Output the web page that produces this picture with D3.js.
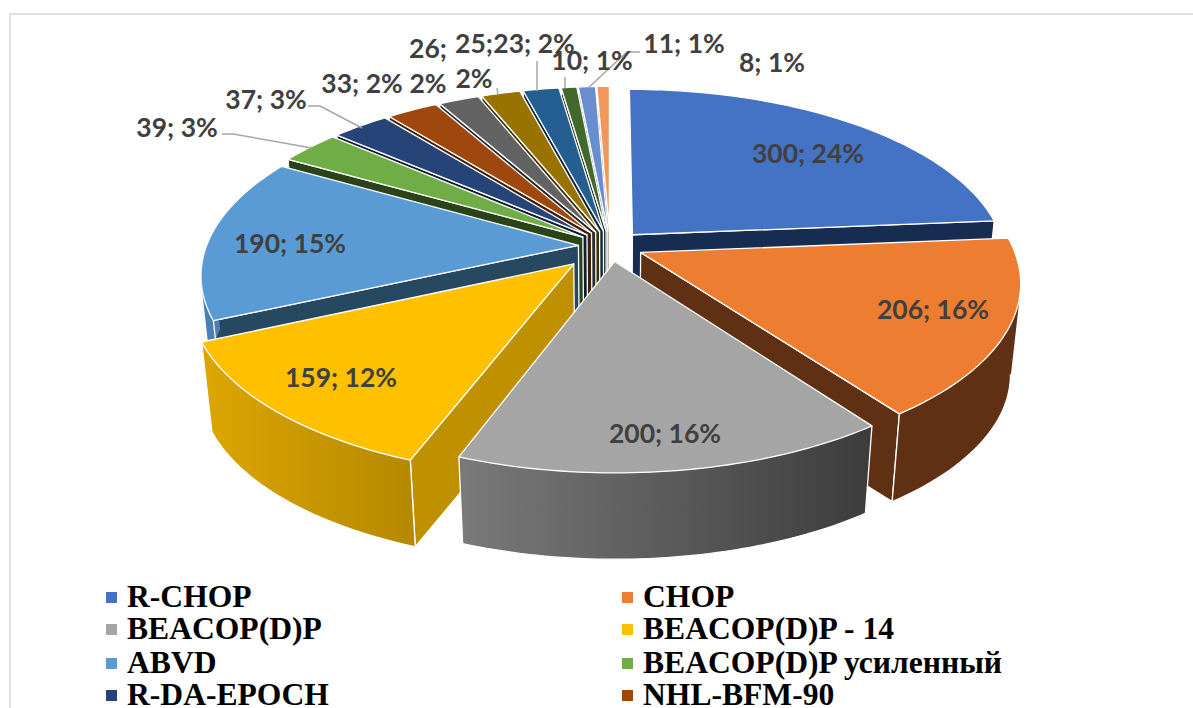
<!DOCTYPE html>
<html><head><meta charset="utf-8">
<script src="https://cdn.jsdelivr.net/npm/d3@7/dist/d3.min.js"></script>
<style>html,body{margin:0;padding:0;background:#fff;overflow:hidden}svg{display:block}</style>
</head><body><svg id="c" width="1193" height="708"></svg>
<script>
const categories = ["R-CHOP","CHOP","BEACOP(D)P","BEACOP(D)P - 14","ABVD","BEACOP(D)P усиленный","R-DA-EPOCH","NHL-BFM-90","s9","s10","s11","s12","s13","s14"];
const values = [300,206,200,159,190,39,37,33,26,25,23,10,11,8];
const topColors = ["#4472C4","#ED7D31","#A5A5A5","#FFC000","#5B9BD5","#70AD47","#264478","#9E480E","#636363","#997300","#255E91","#43682B","#698ED0","#F1975A"];
const wallColors = ["#172C51","#5F3013","#404040","#BF9000","#264861","#2A4318","#0F1D35","#421E06","#2A2A2A","#3F3000","#0F2A40","#1C2C12","#2C4A80","#6B3A15"];
const rimLeft = ["#172C51","#5F3013","#7A7A7A","#DDA600","#4A80B2","#2A4318","#0F1D35","#421E06","#2A2A2A","#3F3000","#0F2A40","#1C2C12","#2C4A80","#6B3A15"];
const rimRight = ["#172C51","#5F3013","#3C3C3C","#B58900","#4A80B2","#2A4318","#0F1D35","#421E06","#2A2A2A","#3F3000","#0F2A40","#1C2C12","#2C4A80","#6B3A15"];
const labelLines = [["300; 24%"],["206; 16%"],["200; 16%"],["159; 12%"],["190; 15%"],["39; 3%"],["37; 3%"],["33; 2%"],["26;","2%"],["25;","2%"],["23; 2%"],["10; 1%"],["11; 1%"],["8; 1%"]];
const explodeBy = [0.09,0.09,0.09,0.14,0.085,0.09,0.09,0.09,0.09,0.09,0.09,0.09,0.09,0.09];
const labelAnchor = [[808,163],[933,319],[665,443],[341,387],[290,253],[177,137],[266,109],[362,93],[428,58,428,93],[474,53,474,88],[534,53],[592,70],[684,53],[772,72]];
const leaders = [null,null,null,null,null,[[222,134],[233,134],[312,148]],[[308,106],[320,106],[362,128]],null,null,[[497,88],[498,95]],[[537,61],[537,91]],[[565,77],[565,88]],[[640,52],[627,52],[588,88]],null];
const legendX = [127,643], legendY = [607,639,673,705];
const cx=610, cy=246, R=372, Ry=172, k=0.16, shrink=0.975, depth=92;

const svg=d3.select("#c");
const defs=svg.append("defs");
svg.append("rect").attr("x",10).attr("y",14).attr("width",1195).attr("height",710).attr("fill","#fff").attr("stroke","#E0E0E0").attr("stroke-width",2);

const pie=d3.pie().sort(null).value(d=>d)(values);
function proj(X,Y){const n=1+k*Y;return [cx+R*X/n,cy-Ry*Y/n];}
function low(p){return [cx+shrink*(p[0]-cx),cy+shrink*(p[1]-cy)+depth];}
const line=d3.line();
const slices=pie.map((a,i)=>{
  const mid=(a.startAngle+a.endAngle)/2, e=explodeBy[i];
  const ox=e*Math.sin(mid), oy=e*Math.cos(mid);
  const n=Math.max(4,Math.ceil((a.endAngle-a.startAngle)/0.02));
  const ts=d3.range(n+1).map(j=>a.startAngle+(a.endAngle-a.startAngle)*j/n);
  const rim=ts.map(t=>proj(ox+Math.sin(t),oy+Math.cos(t)));
  return {i,mid,a,ts,apex:proj(ox,oy),rim};
}).sort((p,q)=>Math.cos(q.mid)-Math.cos(p.mid));

slices.forEach(s=>{
  const g=svg.append("g");
  const apexL=low(s.apex), rimL=s.rim.map(low);
  const poly=(pts,fill)=>g.append("path").attr("d",line(pts)+"Z").attr("fill",fill).attr("stroke","#fff").attr("stroke-width",1.3).attr("stroke-linejoin","round");
  const last=s.rim.length-1;
  if(Math.sin(s.a.startAngle)<-1e-6) poly([s.apex,s.rim[0],rimL[0],apexL],wallColors[s.i]);
  if(Math.sin(s.a.endAngle)>1e-6) poly([s.apex,s.rim[last],rimL[last],apexL],wallColors[s.i]);
  const vis=d3.range(s.rim.length).filter(j=>Math.cos(s.ts[j])<0.05);
  if(vis.length>1){
    const xs=vis.map(j=>s.rim[j][0]);
    const grad=defs.append("linearGradient").attr("id","g"+s.i).attr("gradientUnits","userSpaceOnUse")
      .attr("x1",d3.min(xs)).attr("x2",d3.max(xs)).attr("y1",0).attr("y2",0);
    grad.append("stop").attr("offset",0).attr("stop-color",rimLeft[s.i]);
    grad.append("stop").attr("offset",1).attr("stop-color",rimRight[s.i]);
    // union of same-winding quads: no seams, and the silhouette tangent is filled
    const quads=d3.range(vis.length-1).map(n=>{
      const a=vis[n],b=vis[n+1];
      const q=[s.rim[a],s.rim[b],rimL[b],rimL[a]];
      return d3.polygonArea(q)<0?q.reverse():q;
    });
    g.append("path").attr("d",quads.map(q=>line(q)+"Z").join("")).attr("fill","url(#g"+s.i+")").attr("fill-rule","nonzero");
    const front=vis.filter(j=>Math.cos(s.ts[j])<-0.16);
    if(front.length>1) g.append("path").attr("d",line(front.map(j=>rimL[j]))).attr("fill","none").attr("stroke","#fff").attr("stroke-width",1.2);
    [0,last].forEach(j=>{ if(vis.includes(j)) g.append("path").attr("d",line([s.rim[j],rimL[j]])).attr("stroke","#fff").attr("stroke-width",1.3); });
  }
  poly([s.apex].concat(s.rim),topColors[s.i]);
});

leaders.forEach(l=>{if(l)svg.append("path").attr("d",line(l)).attr("fill","none").attr("stroke","#A6A6A6").attr("stroke-width",1.5);});

labelLines.forEach((t,i)=>{
  const a=labelAnchor[i];
  const el=svg.append("g").attr("font-family","Lato").attr("font-weight",700).attr("font-size",26.5).attr("fill","#404040").attr("text-anchor","middle");
  el.append("text").attr("x",a[0]).attr("y",a[1]).text(t[0]);
  if(t[1])el.append("text").attr("x",a[2]).attr("y",a[3]).text(t[1]);
});

categories.slice(0,8).forEach((c,i)=>{
  const col=i%2,row=(i-col)/2,x=legendX[col],y=legendY[row];
  svg.append("rect").attr("x",x-21).attr("y",y-15).attr("width",11).attr("height",11).attr("fill",topColors[i]);
  svg.append("text").attr("x",x).attr("y",y).attr("font-family","Liberation Serif").attr("font-weight",700).attr("font-size",31.6).attr("fill","#000").text(c);
});
</script></body></html>
